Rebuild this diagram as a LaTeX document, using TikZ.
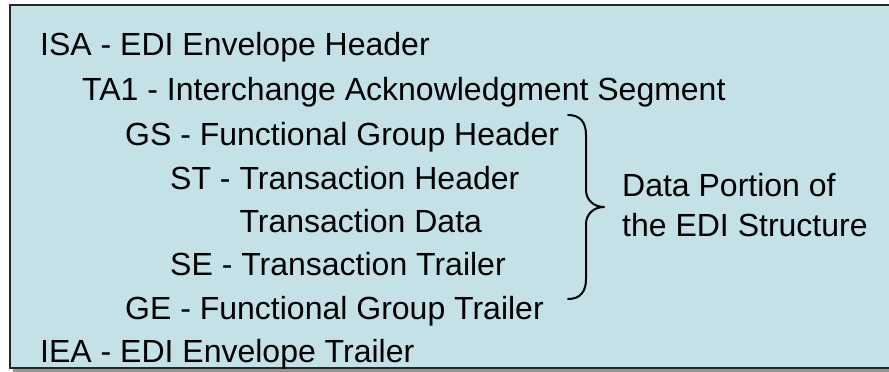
\documentclass[tikz,border=0pt]{standalone}
\usepackage{fontspec}
\setmainfont{Liberation Sans}
\definecolor{boxblue}{RGB}{195,225,230}
\definecolor{shadowgray}{RGB}{150,150,150}
\tikzset{
  lbl/.style={anchor=base west, inner sep=0pt, font=\fontsize{32}{40}\selectfont, text=black},
  bracestroke/.style={draw=black, line width=2pt, line cap=round, line join=round},
}
\begin{document}
\begin{tikzpicture}[x=1pt,y=-1pt]
\useasboundingbox (0,0) rectangle (889,372);
% shadow and box (right edge lies beyond the picture)
\fill[shadowgray] (13,8) rectangle (960,372);
\draw[fill=boxblue, draw=black!85, line width=1.5pt] (10,5) rectangle (960,368);
% text lines
\node[lbl] (isa) at (40,55) {ISA - EDI Envelope Header};
\node[lbl] (ta1) at (82,100) {TA1 - Interchange Acknowledgment Segment};
\node[lbl] (gs)  at (125,145) {GS - Functional Group Header};
\node[lbl] (st)  at (170,189) {ST - Transaction Header};
\node[lbl] (td)  at (170,232) {\phantom{ST - }Transaction Data};
\node[lbl] (se)  at (170,275) {SE - Transaction Trailer};
\node[lbl] (ge)  at (125,319) {GE - Functional Group Trailer};
\node[lbl] (iea) at (40,362) {IEA - EDI Envelope Trailer};
% brace
\draw[bracestroke] (568,115) .. controls (580,115) and (586,122) .. (586,135)
  -- (586,190) .. controls (586,200) and (594,207) .. (604,207)
  .. controls (594,207) and (586,214) .. (586,224)
  -- (586,279) .. controls (586,292) and (580,299) .. (568,299);
% right label
\node[lbl] (dataA) at (622,196) {Data Portion of};
\node[lbl] (dataB) at (622,236) {the EDI Structure};
\end{tikzpicture}
\end{document}
